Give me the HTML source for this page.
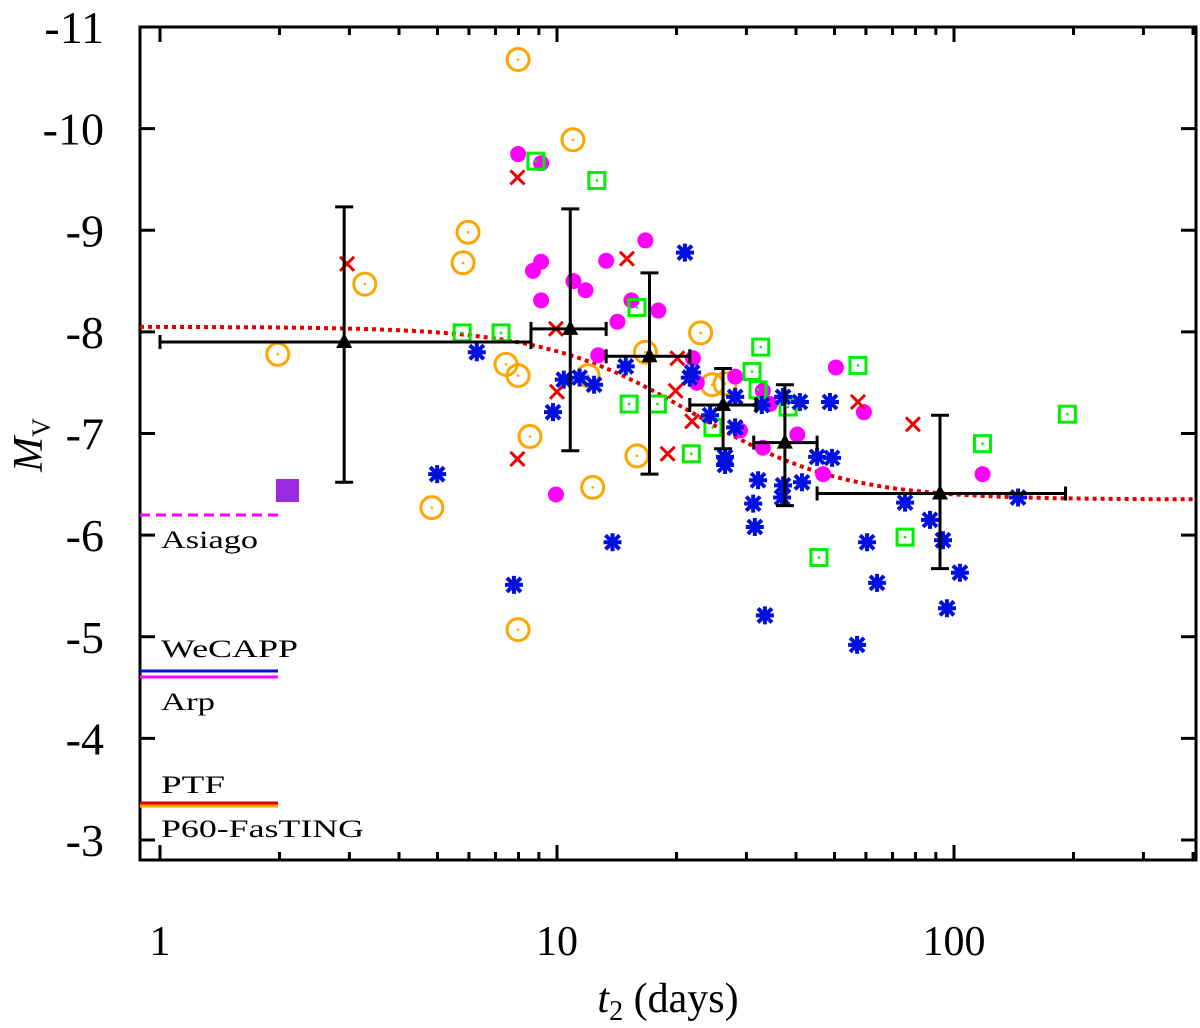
<!DOCTYPE html>
<html><head><meta charset="utf-8"><style>
html,body{margin:0;padding:0;background:#fff}
svg{display:block}
text{font-family:"Liberation Serif",serif;fill:#000}
</style></head><body>
<svg id="chart" width="1200" height="1028" viewBox="0 0 1200 1028" xmlns="http://www.w3.org/2000/svg">
<g id="grid"></g>
<g id="marks"></g>
<g id="legend">
  <line x1="140" y1="515" x2="278" y2="515" stroke="#ff00ff" stroke-width="3" stroke-dasharray="10,6"/>
  <text x="161" y="548" font-size="25" textLength="97" lengthAdjust="spacingAndGlyphs">Asiago</text>
  <rect x="276" y="479" width="23" height="23" fill="#9b2be0"/>
  <text x="161" y="657" font-size="25" textLength="137" lengthAdjust="spacingAndGlyphs">WeCAPP</text>
  <line x1="140" y1="671" x2="278" y2="671" stroke="#0010e0" stroke-width="3"/>
  <line x1="140" y1="677" x2="278" y2="677" stroke="#ff00ff" stroke-width="3"/>
  <text x="161" y="710" font-size="25" textLength="54" lengthAdjust="spacingAndGlyphs">Arp</text>
  <text x="161" y="793" font-size="25" textLength="64" lengthAdjust="spacingAndGlyphs">PTF</text>
  <line x1="140" y1="803" x2="278" y2="803" stroke="#e00000" stroke-width="3"/>
  <line x1="140" y1="806" x2="278" y2="806" stroke="#ffa500" stroke-width="3"/>
  <text x="161" y="837" font-size="25" textLength="203" lengthAdjust="spacingAndGlyphs">P60-FasTING</text>
</g>
<text x="668" y="1012" font-size="42" text-anchor="middle"><tspan font-style="italic">t</tspan><tspan font-size="28" dy="8">2</tspan><tspan dy="-8"> (days)</tspan></text>
<text transform="translate(42,445) rotate(-90)" font-size="42" text-anchor="middle"><tspan font-style="italic">M</tspan><tspan font-size="26" dy="8">V</tspan></text>
</svg>
<script>
// ---- data ----
const orangeT=[1.98,3.28,5.8,5.97,7.98,10.97,4.84,7.44,7.98,8.55,7.98,11.97,12.3,15.9,16.7,23.0,24.6,26.5];
const orangeM=[-7.78,-8.47,-8.68,-8.98,-10.68,-9.89,-6.27,-7.68,-7.57,-6.97,-5.07,-7.57,-6.47,-6.78,-7.8,-7.99,-7.48,-7.49];
const magT=[7.98,9.12,8.7,9.12,9.12,11.0,11.8,13.3,16.7,15.4,14.2,18.0,12.7,9.94,22.0,22.5,28.1,33.0,34.4,40.3,50.4,59.3,46.8,118,33.0,28.9];
const magM=[-9.75,-9.66,-8.6,-8.69,-8.31,-8.5,-8.41,-8.7,-8.9,-8.31,-8.1,-8.21,-7.77,-6.4,-7.74,-7.5,-7.56,-7.42,-7.29,-6.99,-7.65,-7.21,-6.6,-6.6,-6.86,-7.03];
const greenT=[8.85,12.6,5.77,7.23,15.9,15.2,17.9,21.8,24.7,31.0,32.6,38.2,57.3,193,118,45.7,75.3,32.1];
const greenM=[-9.68,-9.49,-7.99,-7.99,-8.24,-7.29,-7.29,-6.8,-7.06,-7.61,-7.85,-7.26,-7.67,-7.19,-6.9,-5.78,-5.98,-7.43];
const redT=[2.96,7.95,15.0,9.94,10.0,7.95,19.9,19.0,21.9,20.1,57.3,78.8];
const redM=[-8.67,-9.52,-8.72,-8.03,-7.41,-6.75,-7.42,-6.8,-7.12,-7.74,-7.31,-7.09];
const blueT=[4.99,6.28,7.79,9.77,10.4,11.4,12.4,13.8,14.9,21.0,21.6,21.9,24.3,28.1,28.1,26.5,26.5,32.8,37.1,40.9,48.7,45.2,49.3,32.1,31.2,31.5,37.1,36.9,41.4,75.3,87.0,93.8,103.5,96.0,64.0,60.4,57.0,33.4,145];
const blueM=[-6.6,-7.8,-5.51,-7.21,-7.53,-7.55,-7.48,-5.93,-7.66,-8.78,-7.55,-7.6,-7.18,-7.36,-7.06,-6.77,-6.69,-7.28,-7.36,-7.31,-7.31,-6.77,-6.76,-6.54,-6.31,-6.08,-6.49,-6.37,-6.52,-6.32,-6.15,-5.95,-5.63,-5.28,-5.53,-5.93,-4.92,-5.21,-6.37];
const binT=[2.91,10.8,17.1,26.2,37.5,92.2];
const binM=[-7.9,-8.03,-7.76,-7.28,-6.91,-6.41];
const binTlo=[1.0,8.6,13.3,21.6,31.3,45.2];
const binThi=[8.6,13.3,21.6,31.7,45.2,191];
const binMlo=[-9.23,-9.21,-8.58,-7.64,-7.48,-7.18];
const binMhi=[-6.52,-6.83,-6.6,-6.85,-6.29,-5.67];
const fitParams=[-8.05,-6.35,22,0.19]; // bright level, faint level, midpoint t2, width (dex)
const yTicks=[-11,-10,-9,-8,-7,-6,-5,-4,-3];
const xTickLabels=["1","10","100"];
// ---- axes ----
const L=140,R=1196,T=27,B=860;
const X=t=>160+397*Math.log10(t);
const Y=m=>27+(m+11)*101.625;
const NS="http://www.w3.org/2000/svg";
function mk(tag,attrs,parent){const e=document.createElementNS(NS,tag);for(const k in attrs)e.setAttribute(k,attrs[k]);parent.appendChild(e);return e;}
const G=document.getElementById('grid'),M=document.getElementById('marks');
let fr=mk('rect',{x:L,y:T,width:R-L,height:B-T,fill:'none',stroke:'#000','stroke-width':3},G);


yTicks.forEach(v=>{const y=Y(v);
  let a=mk('line',{x1:L,y1:y,x2:L+15,y2:y,stroke:'#000','stroke-width':3},G);
  
  
  let b=mk('line',{x1:R-15,y1:y,x2:R,y2:y,stroke:'#000','stroke-width':3},G);
  
  
  let t=mk('text',{x:104,y:y+16,'font-size':46,'text-anchor':'end'},G);t.textContent=String(v);
  
  
});
for(let d=0;d<3;d++){for(let k=1;k<10;k++){const t=Math.pow(10,d)*k;const x=X(t);if(x<L||x>R)continue;const len=k===1?15:8;
  let a=mk('line',{x1:x,y1:B,x2:x,y2:B-len,stroke:'#000','stroke-width':3},G);
  
  
  let b=mk('line',{x1:x,y1:T,x2:x,y2:T+len,stroke:'#000','stroke-width':3},G);
  
  
}}
xTickLabels.forEach(s=>{let t=mk('text',{x:X(parseFloat(s)),y:955,'font-size':42,'text-anchor':'middle'},G);t.textContent=s;
  
  
});
// ---- fit curve ----
let pts=[];for(let x=L;x<=R;x+=4){const lt=(x-160)/397;const [A,Bf,c,w]=fitParams;const m=A+(Bf-A)/(1+Math.exp(-(lt-Math.log10(c))/w));pts.push(x+','+Y(m).toFixed(1));}
let fit=mk('polyline',{points:pts.join(' '),fill:'none',stroke:'#e00000','stroke-width':4,'stroke-dasharray':'4,4'},M);


// ---- markers ----
orangeT.forEach((t,i)=>{const x=X(t),y=Y(orangeM[i]);
  let c=mk('circle',{cx:x,cy:y,r:11,fill:'none',stroke:'#ffa500','stroke-width':3},M);
  
  
  mk('circle',{cx:x,cy:y,r:1.3,fill:'#ffa500'},M);});
magT.forEach((t,i)=>{let c=mk('circle',{cx:X(t),cy:Y(magM[i]),r:8,fill:'#ff00ff'},M);
  
  });
greenT.forEach((t,i)=>{const x=X(t),y=Y(greenM[i]);
  let r=mk('rect',{x:x-8,y:y-8,width:16,height:16,fill:'none',stroke:'#00ee00','stroke-width':3},M);
  
  
  mk('circle',{cx:x,cy:y,r:1.3,fill:'#00ee00'},M);});
redT.forEach((t,i)=>{const x=X(t),y=Y(redM[i]),s=7;
  let p=mk('path',{d:`M${x-s},${y-s}L${x+s},${y+s}M${x-s},${y+s}L${x+s},${y-s}`,stroke:'#ee0000','stroke-width':3,fill:'none'},M);
  
  });
blueT.forEach((t,i)=>{const x=X(t),y=Y(blueM[i]),s=9;
  let p=mk('path',{d:`M${x-s},${y}L${x+s},${y}M${x},${y-s}L${x},${y+s}M${x-7},${y-7}L${x+7},${y+7}M${x-7},${y+7}L${x+7},${y-7}`,stroke:'#0010e0','stroke-width':4,fill:'none'},M);
  
  });
// ---- binned averages ----
binT.forEach((t,i)=>{const x=X(t),y=Y(binM[i]),x1=X(binTlo[i]),x2=X(binThi[i]),y1=Y(binMlo[i]),y2=Y(binMhi[i]);
  let g=mk('path',{d:`M${x1},${y}L${x2},${y}M${x1},${y-7}L${x1},${y+7}M${x2},${y-7}L${x2},${y+7}M${x},${y1}L${x},${y2}M${x-9},${y1}L${x+9},${y1}M${x-9},${y2}L${x+9},${y2}`,stroke:'#000','stroke-width':3,fill:'none'},M);
  
  
  let tr=mk('path',{d:`M${x-8},${y+6}L${x+8},${y+6}L${x},${y-9}Z`,fill:'#000'},M);
  
  });
</script>
</body></html>
